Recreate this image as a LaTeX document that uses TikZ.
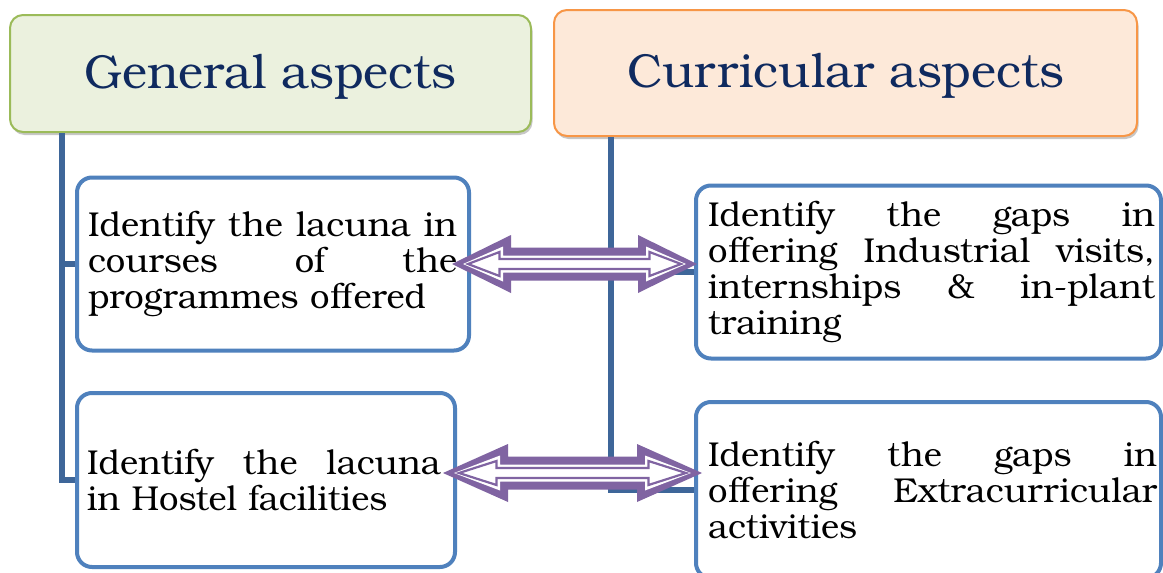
\documentclass[tikz,border=0pt]{standalone}
\usepackage{fontspec}
\setmainfont{TeX Gyre Bonum}
\usetikzlibrary{shadows}
\definecolor{navy}{HTML}{0F2A5F}
\definecolor{gfill}{HTML}{EBF1DE}
\definecolor{gline}{HTML}{9BBB59}
\definecolor{ofill}{HTML}{FDE9D9}
\definecolor{oline}{HTML}{F79646}
\definecolor{boxline}{HTML}{4F81BD}
\definecolor{connc}{HTML}{3E6699}
\definecolor{arrowc}{HTML}{8064A2}
\newcommand{\jline}[2]{\makebox[#1][l]{#2}}
\newcommand{\twinarrow}[3]{%
\begin{scope}[shift={(#1)}]
 \fill[arrowc] (0,0) -- (#3,-29) -- (#3,-16.5) -- ({#2-#3},-16.5) -- ({#2-#3},-29) -- (#2,0) -- ({#2-#3},29) -- ({#2-#3},16.5) -- (#3,16.5) -- (#3,29) -- cycle;
 \fill[white] (11,0) -- ({#3-8},-17.5) -- ({#3-8},-8.5) -- ({#2-#3+8},-8.5) -- ({#2-#3+8},-17.5) -- ({#2-11},0) -- ({#2-#3+8},17.5) -- ({#2-#3+8},8.5) -- ({#3-8},8.5) -- ({#3-8},17.5) -- cycle;
 \draw[arrowc, line width=2.2pt, line join=miter] (16,0) -- ({#3-11.5},-12) -- ({#3-11.5},-5) -- ({#2-#3+11.5},-5) -- ({#2-#3+11.5},-12) -- ({#2-16},0) -- ({#2-#3+11.5},12) -- ({#2-#3+11.5},5) -- ({#3-11.5},5) -- ({#3-11.5},12) -- cycle;
\end{scope}}
\tikzset{
 headbox/.style={rounded corners=13pt, line width=2pt, text=navy, inner sep=0pt,
   font=\fontsize{47.7}{57}\selectfont, text height=40pt, text depth=11pt,
   drop shadow={shadow xshift=1.5pt, shadow yshift=-3pt, opacity=0.22, fill=black}},
 itembox/.style={draw=boxline, line width=4pt, rounded corners=15pt, fill=white,
   font=\fontsize{34.5}{36}\selectfont, align=left, inner sep=0pt, text=black},
 conn/.style={draw=connc, line width=5.5pt},
}
\begin{document}
\begin{tikzpicture}[x=1pt,y=-1pt]
\clip (0,0) rectangle (1163,573);
\fill[white] (0,0) rectangle (1163,573);
% header boxes
\node[headbox, fill=gfill, draw=gline, minimum width=521pt, minimum height=117pt] (gen) at (270.5,73.5) {General aspects};
\node[headbox, fill=ofill, draw=oline, minimum width=583pt, minimum height=126pt] (cur) at (845.5,73) {Curricular aspects};
% item boxes
\node[itembox, minimum width=392pt, minimum height=173pt, text width=370pt] (boxA) at (273,264)
  {\jline{369pt}{Identify\hfill the\hfill lacuna\hfill in}\\
   \jline{369pt}{courses\hfill of\hfill the}\\
   programmes offered};
\node[itembox, minimum width=378pt, minimum height=174pt, text width=358pt] (boxB) at (266,480)
  {\jline{354pt}{Identify\hfill the\hfill lacuna}\\
   in Hostel facilities};
\node[itembox, minimum width=465pt, minimum height=173pt, text width=441pt] (boxC) at (928.5,272)
  {\jline{447pt}{Identify\hfill the\hfill gaps\hfill in}\\
   \jline{447pt}{offering\hfill Industrial\hfill visits,}\\
   \jline{447pt}{internships\hfill \&\hfill in-plant}\\
   training};
\node[itembox, minimum width=465pt, minimum height=176pt, text width=441pt] (boxD) at (928.5,490)
  {\jline{449pt}{Identify\hfill the\hfill gaps\hfill in}\\
   \jline{449pt}{offering\hfill Extracurricular}\\
   activities};
% connectors
\draw[conn] ([xshift=53pt]gen.south west) |- (boxB.west);
\draw[conn] ([xshift=53pt]gen.south west) |- (boxA.west);
\draw[conn] ([xshift=58pt]cur.south west) |- (boxD.west);
\draw[conn] ([xshift=58pt]cur.south west) |- (boxC.west);
% double arrows
\coordinate (a1) at (452,264);
\twinarrow{a1}{245}{59}
\coordinate (a2) at (443,473);
\twinarrow{a2}{259}{65}
\end{tikzpicture}
\end{document}
